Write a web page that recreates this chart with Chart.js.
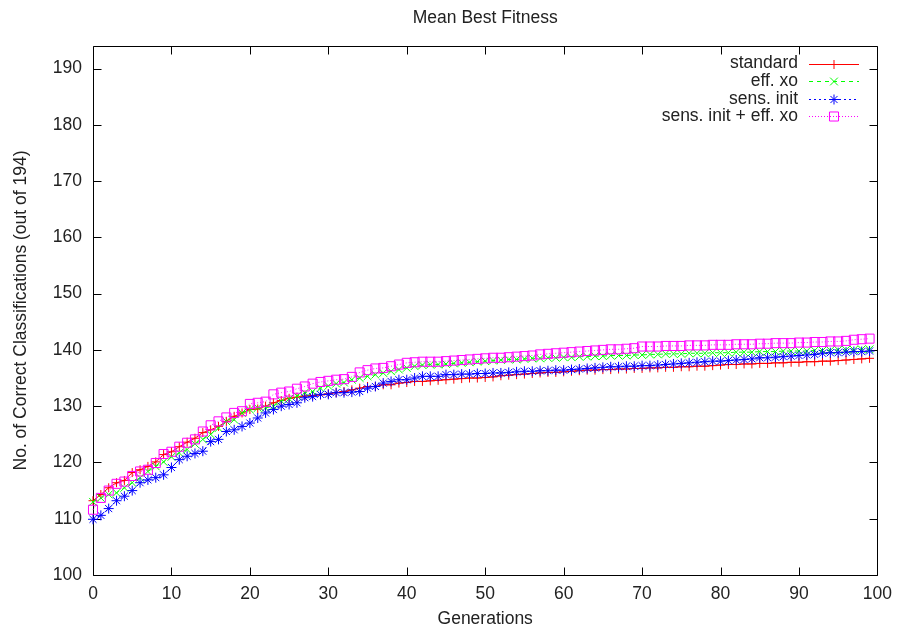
<!DOCTYPE html>
<html>
<head>
<meta charset="utf-8">
<script src="https://cdn.jsdelivr.net/npm/chart.js@4.4.1/dist/chart.umd.min.js"></script>
<style>
  html, body { margin: 0; padding: 0; background: #fff; }
  #wrap { width: 901px; height: 630px; }
</style>
</head>
<body>
<div id="wrap"><canvas id="fitnessChart" width="901" height="630"></canvas></div>
<script>
// generations 0..99
const generations = Array.from({ length: 100 }, (_, i) => i);

const standard = [
  113.2, 114.3, 115.5, 116.4, 116.8, 118.2, 118.7, 119.3, 120.1, 121.4,
  121.9, 122.8, 123.6, 124.3, 125.3, 125.8, 126.4, 127.3, 128.2, 128.8,
  129.4, 129.5, 130.0, 130.6, 131.0, 131.4, 131.6, 131.8, 131.9, 132.0,
  132.2, 132.4, 132.6, 132.9, 133.2, 133.5, 133.5, 133.8, 133.8, 134.1,
  134.2, 134.4, 134.4, 134.5, 134.6, 134.7, 134.8, 134.9, 135.0, 135.0,
  135.1, 135.2, 135.4, 135.5, 135.6, 135.7, 135.8, 135.9, 136.0, 136.0,
  136.1, 136.2, 136.3, 136.4, 136.4, 136.5, 136.5, 136.6, 136.6, 136.7,
  136.7, 136.8, 136.8, 136.9, 136.9, 137.0, 137.0, 137.1, 137.1, 137.2,
  137.3, 137.4, 137.4, 137.5, 137.5, 137.6, 137.6, 137.7, 137.7, 137.8,
  137.8, 137.9, 137.9, 138.0, 138.0, 138.1, 138.2, 138.3, 138.4, 138.5
];

const effXo = [
  113.0, 113.7, 114.3, 114.6, 115.5, 116.4, 117.3, 118.4, 119.3, 120.1,
  121.0, 121.7, 122.3, 123.3, 124.1, 125.0, 126.1, 127.3, 127.6, 128.8,
  129.4, 129.7, 129.7, 130.0, 130.9, 131.3, 131.8, 132.4, 132.6, 133.2,
  133.6, 134.0, 134.2, 134.7, 135.0, 135.3, 135.6, 135.9, 136.2, 136.5,
  136.8, 137.1, 137.3, 137.4, 137.4, 137.5, 137.6, 137.7, 137.8, 137.9,
  138.0, 138.1, 138.2, 138.3, 138.3, 138.4, 138.5, 138.5, 138.6, 138.6,
  138.7, 138.7, 138.8, 138.8, 138.9, 138.9, 139.0, 139.0, 139.0, 139.1,
  139.1, 139.2, 139.2, 139.3, 139.3, 139.3, 139.4, 139.4, 139.4, 139.5,
  139.5, 139.5, 139.6, 139.6, 139.6, 139.7, 139.7, 139.7, 139.8, 139.8,
  139.8, 139.8, 139.9, 139.9, 139.9, 140.0, 140.0, 140.0, 140.1, 140.1
];

const sensInit = [
  109.9, 110.6, 111.8, 113.2, 114.0, 115.0, 116.4, 116.9, 117.3, 117.8,
  119.1, 120.5, 121.1, 121.6, 122.0, 123.7, 124.1, 125.5, 125.8, 126.4,
  127.0, 127.9, 128.8, 129.4, 130.0, 130.3, 130.6, 131.5, 131.7, 132.1,
  132.1, 132.4, 132.4, 132.5, 132.6, 133.2, 133.5, 134.1, 134.4, 134.7,
  134.7, 135.0, 135.3, 135.3, 135.3, 135.6, 135.6, 135.7, 135.7, 135.8,
  135.8, 135.9, 135.9, 136.0, 136.1, 136.2, 136.2, 136.3, 136.3, 136.4,
  136.4, 136.5, 136.6, 136.7, 136.8, 136.9, 137.0, 137.0, 137.1, 137.1,
  137.2, 137.2, 137.3, 137.4, 137.5, 137.6, 137.7, 137.8, 137.9, 138.0,
  138.0, 138.1, 138.2, 138.3, 138.4, 138.6, 138.6, 138.7, 138.8, 138.9,
  139.0, 139.1, 139.2, 139.4, 139.5, 139.5, 139.6, 139.7, 139.7, 139.8
];

const sensInitEffXo = [
  111.6, 113.7, 115.0, 116.2, 116.6, 117.6, 118.4, 118.7, 119.9, 121.5,
  121.9, 122.8, 123.5, 124.1, 125.5, 126.6, 127.3, 128.0, 128.8, 129.1,
  130.4, 130.6, 130.8, 132.1, 132.4, 132.6, 133.1, 133.5, 134.0, 134.3,
  134.5, 134.7, 134.8, 135.2, 136.0, 136.4, 136.7, 136.8, 137.1, 137.4,
  137.7, 137.8, 137.9, 137.9, 137.9, 138.0, 138.1, 138.2, 138.3, 138.4,
  138.5, 138.6, 138.6, 138.7, 138.8, 138.9, 139.0, 139.2, 139.3, 139.4,
  139.5, 139.6, 139.7, 139.8, 139.9, 140.0, 140.1, 140.1, 140.2, 140.3,
  140.6, 140.6, 140.6, 140.7, 140.7, 140.7, 140.8, 140.8, 140.8, 140.9,
  140.9, 140.9, 141.0, 141.0, 141.0, 141.1, 141.1, 141.2, 141.2, 141.2,
  141.3, 141.3, 141.4, 141.4, 141.5, 141.5, 141.6, 141.8, 141.9, 142.0
];

const seriesNames = ['standard', 'eff. xo', 'sens. init', 'sens. init + eff. xo'];
const xTicks = [0, 10, 20, 30, 40, 50, 60, 70, 80, 90, 100];
const yTicks = [100, 110, 120, 130, 140, 150, 160, 170, 180, 190];

const FONT = 'Liberation Sans, Arial, Helvetica, sans-serif';
const FONT_SIZE = 17.5;
const TEXT = '#222';

// line/marker look per series, in key order
const styles = [
  { color: '#ff0000', dash: [], point: 'cross', radius: 4.5 },
  { color: '#00ff00', dash: [4, 4], point: 'crossRot', radius: 5.5 },
  { color: '#0000ff', dash: [2, 3], point: 'star', radius: 5 },
  { color: '#ff00ff', dash: [1, 2], point: 'rect', radius: 6.4 }
];

function toPoints(values) {
  return values.map((v, i) => ({ x: generations[i], y: v }));
}

function series(i, values) {
  const s = styles[i];
  return {
    label: seriesNames[i],
    data: toPoints(values),
    borderColor: s.color,
    backgroundColor: 'rgba(0,0,0,0)',
    borderWidth: 1,
    borderDash: s.dash,
    pointStyle: s.point,
    pointRadius: s.radius,
    pointBorderColor: s.color,
    pointBackgroundColor: 'rgba(0,0,0,0)',
    pointBorderWidth: 1,
    tension: 0,
    clip: false,
    order: 4 - i   // last series drawn on top
  };
}

// gnuplot-like frame with inward ticks on all four sides + key in the corner
const framePlugin = {
  id: 'frame',
  beforeDatasetsDraw(chart) {
    const { ctx, chartArea: a, scales } = chart;
    const L = Math.round(a.left) + 0.5, R = Math.round(a.right) + 0.5;
    const T = Math.round(a.top) + 0.5, B = Math.round(a.bottom) + 0.5;
    const len = 8;
    ctx.save();
    ctx.strokeStyle = '#000';
    ctx.lineWidth = 1;
    ctx.beginPath();
    ctx.rect(L, T, R - L, B - T);
    xTicks.forEach(v => {
      const px = Math.round(scales.x.getPixelForValue(v)) + 0.5;
      ctx.moveTo(px, B); ctx.lineTo(px, B - len);
      ctx.moveTo(px, T); ctx.lineTo(px, T + len);
    });
    yTicks.forEach(v => {
      const py = Math.round(scales.y.getPixelForValue(v)) + 0.5;
      ctx.moveTo(L, py); ctx.lineTo(L + len, py);
      ctx.moveTo(R, py); ctx.lineTo(R - len, py);
    });
    ctx.stroke();
    ctx.restore();
  },
  afterDraw(chart) {
    const { ctx } = chart;
    const textRight = 798, lineFrom = 809, lineTo = 859, rowTop = 63.5, rowStep = 17.6;
    ctx.save();
    seriesNames.forEach((name, i) => {
      const s = styles[i];
      const y = rowTop + i * rowStep;
      const ly = Math.round(y) + 0.5;
      ctx.font = FONT_SIZE + 'px ' + FONT;
      ctx.fillStyle = TEXT;
      ctx.textAlign = 'right';
      ctx.textBaseline = 'middle';
      ctx.fillText(name, textRight, y);
      ctx.strokeStyle = s.color;
      ctx.lineWidth = 1;
      ctx.setLineDash(s.dash);
      ctx.beginPath();
      ctx.moveTo(lineFrom, ly);
      ctx.lineTo(lineTo, ly);
      ctx.stroke();
      ctx.setLineDash([]);
      ctx.fillStyle = 'rgba(0,0,0,0)';
      ctx.strokeStyle = s.color;
      Chart.helpers.drawPoint(ctx, {
        pointStyle: s.point,
        radius: s.radius,
        borderWidth: 1,
        rotation: 0
      }, (lineFrom + lineTo) / 2, ly);
    });
    ctx.restore();
  }
};

const ctx = document.getElementById('fitnessChart').getContext('2d');
new Chart(ctx, {
  type: 'line',
  data: {
    datasets: [
      series(0, standard),
      series(1, effXo),
      series(2, sensInit),
      series(3, sensInitEffXo)
    ]
  },
  options: {
    responsive: false,
    animation: false,
    layout: { padding: { left: 0, right: 20, top: 0, bottom: 0 } },
    plugins: {
      legend: { display: false },
      tooltip: { enabled: false },
      title: {
        display: true,
        text: 'Mean Best Fitness',
        fullSize: false,
        color: TEXT,
        font: { family: FONT, size: FONT_SIZE, weight: 'normal' },
        padding: { top: 8, bottom: 17 }
      }
    },
    scales: {
      x: {
        type: 'linear',
        min: 0,
        max: 100,
        grid: { display: false, drawTicks: false },
        border: { display: false },
        ticks: {
          stepSize: 10,
          color: TEXT,
          padding: 9,
          maxRotation: 0,
          font: { family: FONT, size: FONT_SIZE }
        },
        title: {
          display: true,
          text: 'Generations',
          color: TEXT,
          font: { family: FONT, size: FONT_SIZE },
          padding: { top: 0, bottom: 0 }
        },
        afterFit(scale) { scale.height = 55; }
      },
      y: {
        type: 'linear',
        min: 100,
        max: 194,
        grid: { display: false, drawTicks: false },
        border: { display: false },
        ticks: {
          stepSize: 10,
          color: TEXT,
          padding: 11,
          font: { family: FONT, size: FONT_SIZE }
        },
        afterBuildTicks(scale) {
          scale.ticks = yTicks.map(v => ({ value: v }));
        },
        title: {
          display: true,
          text: 'No. of Correct Classifications (out of 194)',
          color: TEXT,
          font: { family: FONT, size: FONT_SIZE },
          padding: { top: 11, bottom: 0 }
        },
        afterFit(scale) { scale.width = 93; }
      }
    }
  },
  plugins: [framePlugin]
});
</script>
</body>
</html>
